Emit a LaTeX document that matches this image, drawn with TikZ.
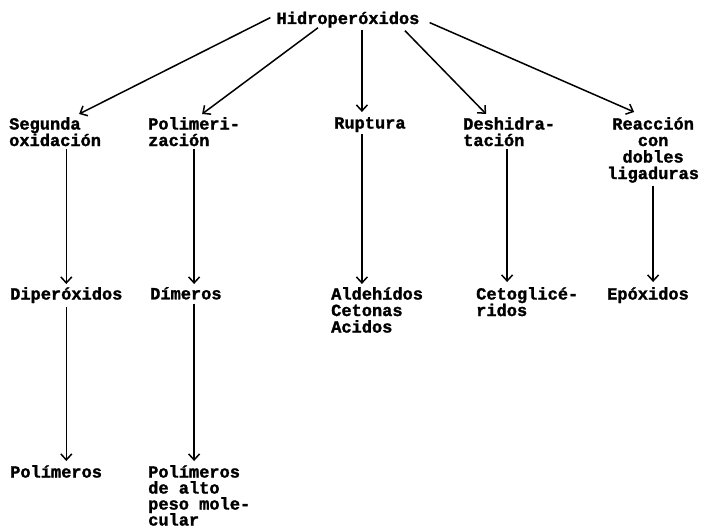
\documentclass[tikz,border=0pt]{standalone}
\usepackage{fontspec}
\setmonofont{Liberation Mono}[BoldFeatures={FakeBold=1.5}]
\usepackage{tikz}
\usetikzlibrary{arrows.meta, positioning}

\begin{document}
\begin{tikzpicture}[
        x=1pt, y=-1pt,
        term/.style={inner sep=0pt, align=left, font=\ttfamily\bfseries\fontsize{17}{16.5}\selectfont},
        rel/.style={-{Straight Barb[length=6pt,width=11pt]}, line width=1.5pt, black}
    ]
        \useasboundingbox (0,0) rectangle (701,529);

        \node[term, anchor=base] (hidro) at (348,24) {Hidroperóxidos};

        \node[term, anchor=north west] (seg) at (9,117) {Segunda\\oxidación};
        \node[term, anchor=north west] (polim) at (148,117) {Polimeri-\\zación};
        \node[term, anchor=north west] (rup) at (334,117) {Ruptura};
        \node[term, anchor=north west] (desh) at (463,117) {Deshidra-\\tación};
        \node[term, anchor=north west, align=center] (reac) at (607,117) {Reacción\\con\\dobles\\ligaduras};

        \node[term, anchor=north west] (diper) at (10,287) {Diperóxidos};
        \node[term, anchor=north west] (dim) at (150,287) {Dímeros};
        \node[term, anchor=north west] (ald) at (331,287) {Aldehídos\\Cetonas\\Acidos};
        \node[term, anchor=north west] (ceto) at (476,287) {Cetoglicé-\\ridos};
        \node[term, anchor=north west] (epox) at (607,287) {Epóxidos};

        \node[term, anchor=north west] (pol) at (10,465) {Polímeros};
        \node[term, anchor=north west, font=\ttfamily\bfseries\fontsize{17}{16}\selectfont] (polalto) at (148,465) {Polímeros\\de alto\\peso mole-\\cular};

        \coordinate (rupin) at ([xshift=-8pt,yshift=5pt]rup.north);

        \draw[rel] ([xshift=-6pt,yshift=2pt]hidro.west) -- ([xshift=24pt,yshift=3pt]seg.north);
        \draw[rel] ([xshift=-30pt]hidro.south) -- ([xshift=8pt,yshift=3pt]polim.north);
        \draw[rel] ([yshift=-2pt]hidro.south -| rupin) -- (rupin);
        \draw[rel] ([xshift=57pt,yshift=-3pt]hidro.south) -- ([xshift=-23pt,yshift=3pt]desh.north);
        \draw[rel] ([xshift=10pt,yshift=-3pt]hidro.east) -- ([xshift=-19pt,yshift=5pt]reac.north);

        \draw[rel] ([yshift=-3pt]diper.north |- seg.south) -- ([yshift=3pt]diper.north);
        \draw[rel] ([yshift=-3pt]polim.south) -- ([yshift=3pt]polim.south |- dim.north);
        \draw[rel] ([yshift=-2pt]rupin |- rup.south) -- ([yshift=3pt]rupin |- ald.north);
        \draw[rel] ([xshift=-2pt,yshift=-3pt]desh.south) -- ([xshift=-2pt,yshift=5pt]desh.south |- ceto.north);
        \draw[rel] ([yshift=-3pt]reac.south) -- ([yshift=5pt]reac.south |- epox.north);

        \draw[rel] ([yshift=-4pt]diper.south) -- ([yshift=4pt]diper.south |- pol.north);
        \draw[rel] ([yshift=-4pt]polim.south |- dim.south) -- ([yshift=4pt]polim.south |- polalto.north);
    \end{tikzpicture}
\end{document}
